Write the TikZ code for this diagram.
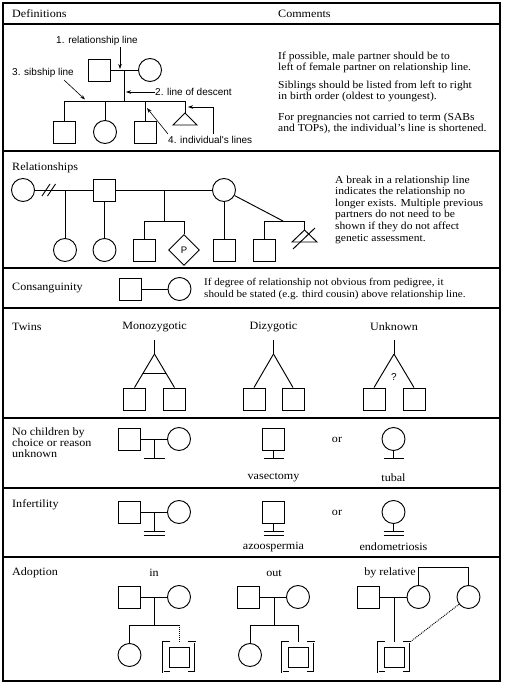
\documentclass[tikz,border=0pt]{standalone}
\usepackage{fontspec}
\setmainfont{Liberation Serif}[FakeStretch=1.08]
\newfontfamily\lbl{Liberation Sans}
\usetikzlibrary{arrows.meta,shapes.geometric,calc}
\begin{document}
\begin{tikzpicture}[x=1pt,y=-1pt,
  sym/.style={draw,line width=0.95pt,inner sep=0pt},
  sq/.style={sym,rectangle,minimum width=22pt,minimum height=22pt},
  smsq/.style={sym,rectangle,minimum width=20pt,minimum height=20pt},
  ci/.style={sym,circle,minimum size=23pt},
  ln/.style={line width=0.95pt},
  dot/.style={line width=0.95pt,densely dotted},
  brk/.style={line width=0.45pt,double=white,double distance=0.9pt},
  frm/.style={line width=1.4pt},
  arr/.style={line width=0.6pt,-{Stealth[length=5pt,width=3.5pt]}},
  lab/.style={font=\lbl\fontsize{10}{11}\selectfont,inner sep=0pt},
  txt/.style={font=\fontsize{11.2}{12}\selectfont,inner sep=0pt,align=left},
  par/.style={font=\fontsize{10.7}{11.6}\selectfont,inner sep=0pt,align=left},
]
\useasboundingbox (0,0) rectangle (504,686);
\draw[frm] (3,3) rectangle (500,681);
\foreach \y in {24,151,268,308,418,488,557} \draw[frm] (3,\y) -- (500,\y);

% ---------------- header
\node[txt,anchor=west] (hdef) at (12,14) {Definitions};
\node[txt,anchor=west] (hcom) at (278,14) {Comments};

% ---------------- definitions
\node[sq] (dm) at (99.5,70) {};
\node[ci] (df) at (150,70) {};
\draw[ln] (dm) -- (df);
\coordinate (dr) at (124,70);
\coordinate (ds) at (124,101);
\draw[ln] (dr) -- (ds);
\node[sq] (k1) at (64.5,132) {};
\node[ci] (k2) at (105,132) {};
\node[sq] (k3) at (145,132) {};
\coordinate (k4) at (185,113);
\draw[ln] (k4) -- ++(12,12) -- ++(-24,0) -- cycle;
\draw[ln] (k1.north |- ds) -- (k4 |- ds);
\draw[ln] (k1.north |- ds) -- (k1.north);
\draw[ln] (k2.north |- ds) -- (k2.north);
\draw[ln] (k3.north |- ds) -- (k3.north);
\draw[ln] (k4 |- ds) -- (k4);

\node[lab] (l1) at (97,41) {1. relationship line};
\coordinate (l1a) at (120,47);
\coordinate (l1b) at (120,69);
\draw[arr] (l1a) -- (l1b);
\node[lab,anchor=west] (l2) at (155,92) {2. line of descent};
\draw[arr] (l2.west) -- ($(ds |- l2.west)+(2,0)$);
\node[lab,anchor=west] (l3) at (12,73) {3. sibship line};
\coordinate (l3a) at (64,80);
\coordinate (l3b) at (85,99.5);
\draw[arr] (l3a) -- (l3b);
\node[lab,anchor=west] (l4) at (168,140) {4. individual's lines};
\coordinate (l4a) at (168,134);
\coordinate (l4b) at (147,108);
\draw[arr] (l4a) -- (l4b);
\coordinate (l4c) at (213,134);
\coordinate (l4d) at (188,107);
\draw[arr] (l4c) |- (l4d);

\node[par,anchor=north west] (cm1) at (278,51.5) {If possible, male partner should be to\\left of female partner on relationship line.};
\node[par,anchor=north west] (cm2) at (278,80.5) {Siblings should be listed from left to right\\in birth order (oldest to youngest).};
\node[par,anchor=north west] (cm3) at (278,112.5) {For pregnancies not carried to term (SABs\\and TOPs), the individual's line is shortened.};

% ---------------- relationships
\node[txt,anchor=west] (hrel) at (12,168) {Relationships};
\node[ci] (r1) at (23,190) {};
\node[sq] (r2) at (104.5,190) {};
\node[ci] (r3) at (224,190) {};
\draw[ln] (r1) -- (r2);
\draw[ln] (r2) -- (r3);
\draw[ln] (42,196) -- (50,184);
\draw[ln] (47.5,196) -- (55.5,184);
\node[ci] (r4) at (65,250) {};
\node[ci] (r5) at (104.5,250) {};
\draw[ln] (r4.north |- r1) -- (r4);
\draw[ln] (r2) -- (r5);
\coordinate (r23) at (164,190);
\coordinate (r2s) at (164,221);
\draw[ln] (r23) -- (r2s);
\node[sq] (r6) at (144.5,250.5) {};
\node[sym,diamond,minimum size=31pt,font=\lbl\fontsize{9.5}{10}\selectfont] (r7) at (184,250) {P};
\draw[ln] (r6.north) |- (r7.north |- r2s) -- (r7.north);
\node[sq] (r8) at (224,250.5) {};
\draw[ln] (r3) -- (r8);
\coordinate (r3d) at (283,221);
\draw[ln] (r3) -- (r3d);
\node[sq] (r9) at (264.5,250.5) {};
\coordinate (r10) at (304.5,230);
\draw[ln] (r10) -- ++(12.5,12) -- ++(-25,0) -- cycle;
\draw[ln] (293,249) -- (315,228);
\draw[ln] (r9.north) |- (r10 |- r3d) -- (r10);
\node[par,anchor=north west] (rtx) at (335,175.5) {A break in a relationship line\\indicates the relationship no\\longer exists. Multiple previous\\partners do not need to be\\shown if they do not affect\\genetic assessment.};

% ---------------- consanguinity
\node[txt,anchor=west] (hcon) at (12,288) {Consanguinity};
\node[sq] (cm) at (130,289) {};
\node[ci] (cf) at (179.5,289) {};
\draw[ln] (cm) -- (cf);
\node[par,anchor=north west,font=\fontsize{10.3}{12.5}\selectfont] (ctx) at (204,278) {If degree of relationship not obvious from pedigree, it\\should be stated (e.g. third cousin) above relationship line.};

% ---------------- twins
\node[txt,anchor=west] (htw) at (12,327) {Twins};
\node[txt] (tmz) at (154.5,327) {Monozygotic};
\node[txt] (tdz) at (273.5,327) {Dizygotic};
\node[txt] (tun) at (394,327) {Unknown};
% mono
\coordinate (mt) at (154.5,340); \coordinate (ma) at (154.5,354);
\node[sq] (m1) at (134.5,399) {}; \node[sq] (m2) at (174.5,399) {};
\draw[ln] (mt) -- (ma); \draw[ln] (ma) -- (m1.north); \draw[ln] (ma) -- (m2.north);
\draw[ln] ($(ma)!0.59!(m1.north)$) -- ($(ma)!0.59!(m2.north)$);
% di
\coordinate (zt) at (273.5,340); \coordinate (za) at (273.5,354);
\node[sq] (z1) at (254,399) {}; \node[sq] (z2) at (293,399) {};
\draw[ln] (zt) -- (za); \draw[ln] (za) -- (z1.north); \draw[ln] (za) -- (z2.north);
% unknown
\coordinate (ut) at (394,340); \coordinate (ua) at (394,354);
\node[sq] (u1) at (374,399) {}; \node[sq] (u2) at (414,399) {};
\draw[ln] (ut) -- (ua); \draw[ln] (ua) -- (u1.north); \draw[ln] (ua) -- (u2.north);
\node[lab] (uq) at (394,377) {?};

% ---------------- no children
\node[txt,anchor=north west,font=\fontsize{11.2}{11}\selectfont] (hnc) at (12,428) {No children by\\choice or reason\\unknown};
\node[sq] (n1) at (129,439) {}; \node[ci] (n2) at (179,439) {};
\draw[ln] (n1) -- (n2);
\coordinate (n3) at (154,439); \coordinate (n4) at (154,458);
\draw[ln] (n3) -- (n4);
\draw[ln] ($(n4)+(-10.5,0)$) -- ($(n4)+(10.5,0)$);
\node[sq] (n5) at (273.5,439) {};
\draw[ln] (n5.south) -- (n5.south |- n4);
\draw[ln] ($(n5.south |- n4)+(-10,0)$) -- ($(n5.south |- n4)+(10,0)$);
\node[txt] (nvas) at (273.5,478) {vasectomy};
\node[txt] (nor) at (337,440) {or};
\node[ci] (n6) at (393.5,439) {};
\draw[ln] (n6.south) -- (n6.south |- n4);
\draw[ln] ($(n6.south |- n4)+(-10,0)$) -- ($(n6.south |- n4)+(10,0)$);
\node[txt] (ntub) at (393.5,478) {tubal};

% ---------------- infertility
\node[txt,anchor=west] (hinf) at (12,505) {Infertility};
\node[sq] (i1) at (129,512) {}; \node[ci] (i2) at (179,512) {};
\draw[ln] (i1) -- (i2);
\coordinate (i3) at (154,512); \coordinate (i4) at (154,531); \coordinate (i4b) at (154,535.5);
\draw[ln] (i3) -- (i4);
\draw[ln] ($(i4)+(-10.5,0)$) -- ($(i4)+(10.5,0)$);
\draw[ln] ($(i4b)+(-10.5,0)$) -- ($(i4b)+(10.5,0)$);
\node[sq] (i5) at (273.5,512) {};
\draw[ln] (i5.south) -- (i5.south |- i4);
\draw[ln] ($(i5.south |- i4)+(-10,0)$) -- ($(i5.south |- i4)+(10,0)$);
\draw[ln] ($(i5.south |- i4b)+(-10,0)$) -- ($(i5.south |- i4b)+(10,0)$);
\node[txt] (iaz) at (273.5,547) {azoospermia};
\node[txt] (ior) at (337,513) {or};
\node[ci] (i6) at (393.5,512) {};
\draw[ln] (i6.south) -- (i6.south |- i4);
\draw[ln] ($(i6.south |- i4)+(-10,0)$) -- ($(i6.south |- i4)+(10,0)$);
\draw[ln] ($(i6.south |- i4b)+(-10,0)$) -- ($(i6.south |- i4b)+(10,0)$);
\node[txt] (iend) at (393.5,547) {endometriosis};

% ---------------- adoption
\node[txt,anchor=west] (had) at (12,573) {Adoption};
\node[txt] (ain) at (154,573) {in};
\node[txt] (aout) at (274,573) {out};
\node[txt] (arel) at (390,573) {by relative};
% in
\node[sq] (a1) at (129,597) {}; \node[ci] (a2) at (179,597) {};
\draw[ln] (a1) -- (a2);
\coordinate (a3) at (154,597); \coordinate (a4) at (154,625);
\draw[ln] (a3) -- (a4);
\node[ci] (a5) at (129.5,655) {};
\node[smsq] (a6) at (179,657) {};
\coordinate (a6t) at (179,642);
\draw[ln] (a5.north) |- (a6t |- a4);
\draw[ln] (a4) -- (a6t |- a4);
\draw[dot] (a6t |- a4) -- (a6t);
\draw[brk] ($(a6)+(-9,-15)$) -- ($(a6)+(-16,-15)$) -- ($(a6)+(-16,15)$) -- ($(a6)+(-9,15)$);
\draw[brk] ($(a6)+(9,-15)$) -- ($(a6)+(16,-15)$) -- ($(a6)+(16,15)$) -- ($(a6)+(9,15)$);
% out
\node[sq] (b1) at (248.5,597) {}; \node[ci] (b2) at (298,597) {};
\draw[ln] (b1) -- (b2);
\coordinate (b3) at (274,597); \coordinate (b4) at (274,625);
\draw[ln] (b3) -- (b4);
\node[ci] (b5) at (250,655) {};
\node[smsq] (b6) at (298,657) {};
\coordinate (b6t) at (298,642);
\draw[ln] (b5.north) |- (b6t |- b4) -- (b6t);
\draw[brk] ($(b6)+(-9,-15)$) -- ($(b6)+(-16,-15)$) -- ($(b6)+(-16,15)$) -- ($(b6)+(-9,15)$);
\draw[brk] ($(b6)+(9,-15)$) -- ($(b6)+(16,-15)$) -- ($(b6)+(16,15)$) -- ($(b6)+(9,15)$);
% by relative
\node[sq] (e1) at (368.5,597) {}; \node[ci] (e2) at (418.5,597) {}; \node[ci] (e3) at (468.5,597) {};
\draw[ln] (e1) -- (e2);
\coordinate (e4) at (394,597);
\node[smsq] (e6) at (394,657) {};
\coordinate (e6t) at (394,642);
\draw[ln] (e4) -- (e6t);
\draw[ln] (e2.north) -- ++(0,-18) -| (e3.north);
\coordinate (e6r) at (410,642);
\draw[dot] (e3) -- (e6r);
\draw[brk] ($(e6)+(-9,-15)$) -- ($(e6)+(-16,-15)$) -- ($(e6)+(-16,15)$) -- ($(e6)+(-9,15)$);
\draw[brk] ($(e6)+(9,-15)$) -- ($(e6)+(16,-15)$) -- ($(e6)+(16,15)$) -- ($(e6)+(9,15)$);
\end{tikzpicture}
\end{document}
